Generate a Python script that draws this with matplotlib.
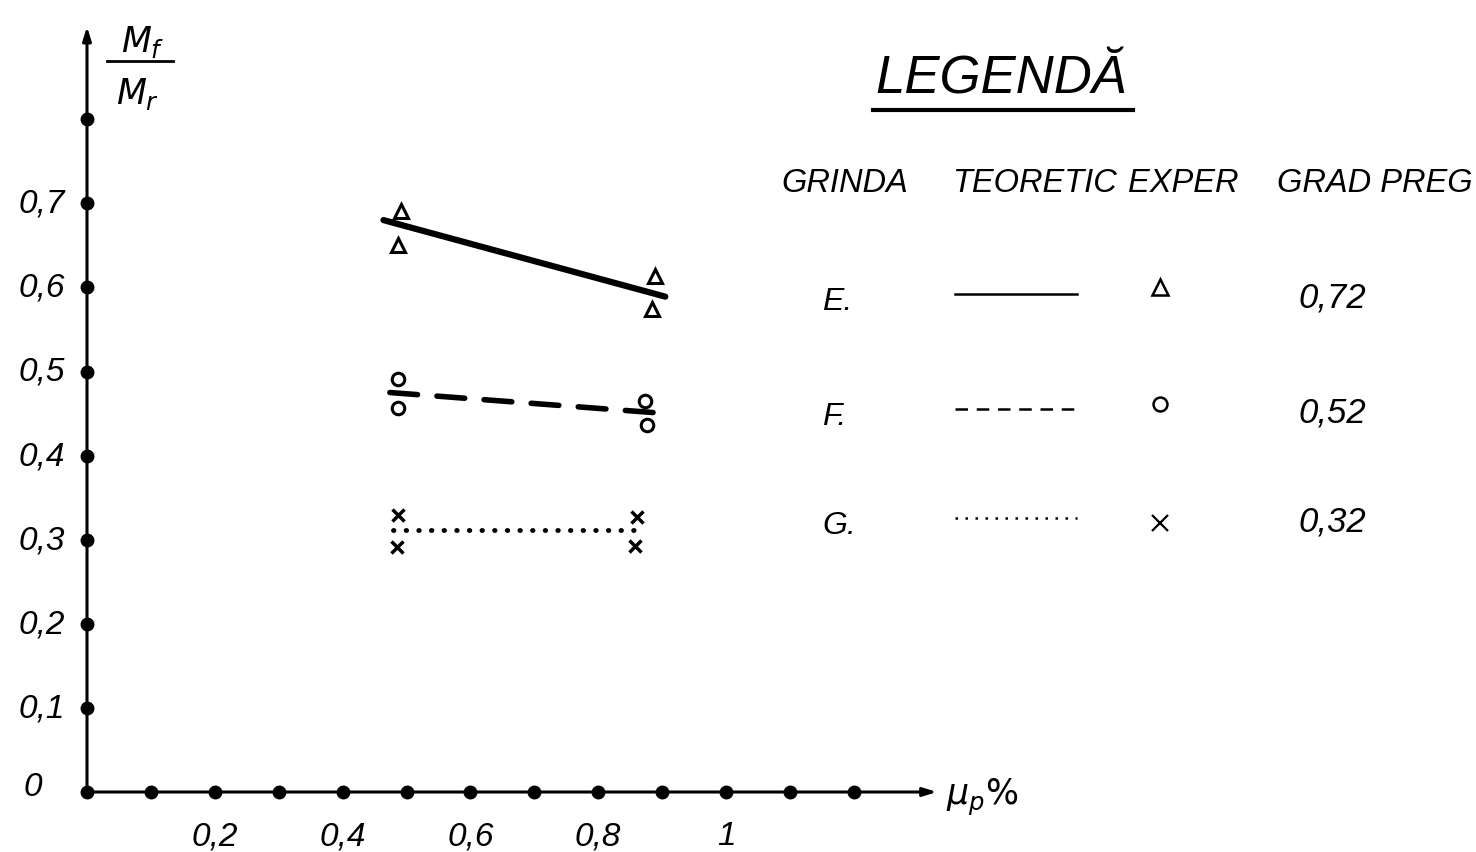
import matplotlib.pyplot as plt
import numpy as np

# reinforcement ratio mu_p (%) and moment ratio Mf/Mr
x_ticks = np.round(np.arange(0, 1.21, 0.1), 1)
x_labels = {0.2: "0,2", 0.4: "0,4", 0.6: "0,6", 0.8: "0,8", 1.0: "1"}
y_ticks = np.round(np.arange(0.1, 0.81, 0.1), 1)
y_labels = {0.1: "0,1", 0.2: "0,2", 0.3: "0,3", 0.4: "0,4", 0.5: "0,5",
            0.6: "0,6", 0.7: "0,7"}

# theoretical lines (start, end)
E_line_x = [0.464, 0.905]
E_line_y = [0.680, 0.589]
F_line_x = [0.474, 0.889]
F_line_y = [0.475, 0.451]
G_line_x = [0.479, 0.863]
G_line_y = [0.311, 0.311]

# experimental points
E_exp_x = [0.492, 0.487, 0.889, 0.884]
E_exp_y = [0.691, 0.650, 0.614, 0.574]
F_exp_x = [0.487, 0.487, 0.873, 0.876]
F_exp_y = [0.491, 0.457, 0.465, 0.436]
G_exp_x = [0.487, 0.485, 0.860, 0.858]
G_exp_y = [0.329, 0.291, 0.327, 0.293]

beams = ["E.", "F.", "G."]
grad_preg = ["0,72", "0,52", "0,32"]

W, H = 1476, 853
FONT = "Liberation Sans"

fig = plt.figure(figsize=(W / 100, H / 100), dpi=100)
ax = fig.add_axes([0, 0, 1, 1])
# origin at pixel (87, 793), 639 px per unit in x, 841 px per unit in y
ax.set_xlim(-87 / 639, (W - 87) / 639)
ax.set_ylim(-(H - 793) / 841, 793 / 841)
ax.axis("off")


def fp(px, py):
    """pixel position -> figure fraction"""
    return px / W, 1 - py / H


txt = dict(fontfamily=FONT, style="italic", color="black")

# axes with arrows
ax.annotate("", xy=(1.33, 0), xytext=(0, 0),
            arrowprops=dict(arrowstyle="-|>,head_length=0.8,head_width=0.25",
                            lw=2.2, color="black", shrinkA=0, shrinkB=0))
ax.annotate("", xy=(0, 0.91), xytext=(0, 0),
            arrowprops=dict(arrowstyle="-|>,head_length=0.8,head_width=0.25",
                            lw=2.2, color="black", shrinkA=0, shrinkB=0))

# tick dots
ax.plot(x_ticks, np.zeros_like(x_ticks), "o", color="black", ms=9)
ax.plot(np.zeros_like(y_ticks), y_ticks, "o", color="black", ms=9)

for xv, lab in x_labels.items():
    ax.text(xv, -0.052, lab, ha="center", va="center", fontsize=24, **txt)
for yv, lab in y_labels.items():
    ax.text(-0.035, yv, lab, ha="right", va="center", fontsize=24, **txt)
ax.text(-0.085, 0.007, "0", ha="center", va="center", fontsize=24, **txt)

# axis titles
fig.text(*fp(143, 42), r"$M_f$", ha="center", va="center", fontsize=25,
         fontfamily=FONT, style="italic")
fig.add_artist(plt.Line2D([107 / W, 173 / W], [1 - 62 / H, 1 - 62 / H],
                          color="black", lw=2))
fig.text(*fp(138, 94), r"$M_r$", ha="center", va="center", fontsize=25,
         fontfamily=FONT, style="italic")
fig.text(*fp(982, 797), r"$\mu_p\%$", ha="center", va="center", fontsize=25,
         fontfamily=FONT, style="italic")

# theoretical curves
ax.plot(E_line_x, E_line_y, "-", color="black", lw=4.5, solid_capstyle="round")
ax.plot(F_line_x, F_line_y, color="black", lw=4, dashes=(5, 3.5),
        dash_capstyle="round")
ax.plot(G_line_x, G_line_y, color="black", lw=3.5, dashes=(0.1, 2.5),
        dash_capstyle="round")

# experimental points
ax.plot(E_exp_x, E_exp_y, "^", ms=10, mfc="white", mec="black", mew=2.2,
        ls="none")
ax.plot(F_exp_x, F_exp_y, "o", ms=9, mfc="white", mec="black", mew=2.2,
        ls="none")
ax.plot(G_exp_x, G_exp_y, "x", ms=9, color="black", mew=2.5, ls="none")

# legend block
fig.text(*fp(875, 80), "LEGENDĂ", ha="left", va="center", fontsize=38, **txt)
fig.add_artist(plt.Line2D([873 / W, 1133 / W], [1 - 111 / H, 1 - 111 / H],
                          color="black", lw=3))

header = [("GRINDA", 781), ("TEORETIC", 952), ("EXPER", 1128),
          ("GRAD PREG", 1277)]
for word, px in header:
    fig.text(*fp(px, 183), word, ha="left", va="center", fontsize=23.5, **txt)

row_y = [298, 413, 522]
line_styles = [dict(ls="-", lw=1.8),
               dict(dashes=(5, 3.5), lw=1.8),
               dict(dashes=(1, 3), lw=1.8)]
markers = [dict(marker="^", ms=11, mfc="white", mec="black", mew=1.8),
           dict(marker="o", ms=10, mfc="white", mec="black", mew=1.8),
           dict(marker="x", ms=11, color="black", mew=1.6)]
marker_dy = [-10, -8, 2]

for i in range(3):
    yy = row_y[i]
    fig.text(*fp(822, yy + 4), beams[i], ha="left", va="center",
             fontsize=23, **txt)
    fig.add_artist(plt.Line2D([955 / W, 1077 / W],
                              [1 - (yy - 3) / H, 1 - (yy - 3) / H],
                              color="black", **line_styles[i]))
    mx, my = fp(1160, yy + marker_dy[i])
    fig.add_artist(plt.Line2D([mx], [my], ls="none", **markers[i]))
    fig.text(*fp(1298, yy), grad_preg[i], ha="left", va="center",
             fontsize=25, **txt)

fig.savefig("out.png", dpi=100, facecolor="white")
